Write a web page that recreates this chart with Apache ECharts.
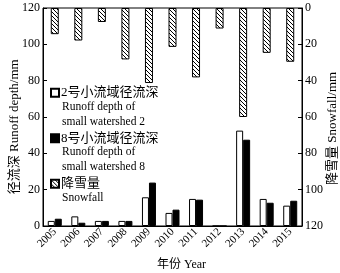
<!DOCTYPE html>
<html>
<head>
<meta charset="utf-8">
<script src="https://cdn.jsdelivr.net/npm/echarts@6/dist/echarts.min.js"></script>
<style>
  html, body { margin: 0; padding: 0; background: #fff; }
  #chart { width: 340px; height: 273px; }
</style>
</head>
<body>
<div id="chart"></div>
<script>
// 年份
const years = ['2005', '2006', '2007', '2008', '2009', '2010', '2011', '2012', '2013', '2014', '2015'];
// 2号小流域径流深 (mm)
const runoff2 = [2.8, 5.3, 2.8, 2.8, 15.8, 7.2, 14.9, 0, 52.5, 14.9, 11.2];
// 8号小流域径流深 (mm)
const runoff8 = [4.0, 1.8, 2.8, 2.8, 23.9, 9.0, 14.5, 0, 47.5, 12.8, 13.9];
// 降雪量 (mm)
const snowfall = [14.4, 17.9, 7.7, 28.3, 41.3, 21.4, 38.2, 11.3, 60, 24.7, 29.6];
const yTicks = [0, 20, 40, 60, 80, 100, 120];

// 图例英文说明
const legendNames = ['2号小流域径流深', '8号小流域径流深', '降雪量'];
const legendEnglish = [
  ['Runoff depth of', 'small watershed 2'],
  ['Runoff depth of', 'small watershed 8'],
  ['Snowfall']
];

const FONT = '"Liberation Serif", "Noto Sans CJK SC", serif';

// 斜线填充
function hatch() {
  const s = 4;
  const c = document.createElement('canvas');
  c.width = s; c.height = s;
  const ctx = c.getContext('2d');
  ctx.fillStyle = '#fff';
  ctx.fillRect(0, 0, s, s);
  ctx.strokeStyle = '#000';
  ctx.lineWidth = 1;
  ctx.beginPath();
  ctx.moveTo(-1, -1); ctx.lineTo(s + 1, s + 1);
  ctx.moveTo(-s - 1, -1); ctx.lineTo(1, s + 1);
  ctx.moveTo(s - 1, -1); ctx.lineTo(2 * s + 1, s + 1);
  ctx.stroke();
  return c;
}

// 图例下方的英文行
function englishLines() {
  const out = [];
  const firstY = [108, 153, 199];
  legendEnglish.forEach(function (lines, i) {
    lines.forEach(function (t, j) {
      out.push({
        type: 'text',
        left: 62,
        top: firstY[i] + j * 15 - 7,
        style: {
          text: t,
          font: '11.5px "Liberation Serif"',
          fontSize: 11.5,
          fontFamily: '"Liberation Serif"',
          fill: '#000'
        }
      });
    });
  });
  return out;
}

const chart = echarts.init(document.getElementById('chart'), null, { renderer: 'canvas' });

const option = {
  animation: false,
  textStyle: { fontFamily: FONT, color: '#000' },
  grid: {
    left: 43, right: 38, top: 8, bottom: 47,
    outerBoundsMode: 'none',
    containLabel: false,
    show: true, borderColor: '#000', borderWidth: 1, backgroundColor: 'transparent'
  },
  legend: {
    orient: 'vertical',
    left: 50,
    top: 85,
    icon: 'rect',
    itemWidth: 8,
    itemHeight: 8,
    itemGap: 30,
    padding: 0,
    data: legendNames,
    textStyle: {
      fontSize: 13,
      lineHeight: 15.5,
      fontFamily: FONT,
      color: '#000',
      padding: [0, 0, 0, -3]
    }
  },
  graphic: englishLines(),
  xAxis: [
    {
      type: 'category',
      data: years,
      boundaryGap: true,
      name: '年份 Year',
      nameLocation: 'middle',
      nameGap: 33,
      nameMoveOverlap: false,
      nameTextStyle: { fontSize: 12, fontFamily: FONT, color: '#000', padding: [0, 0, 0, 18] },
      axisLine: { lineStyle: { color: '#000', width: 1 } },
      axisTick: { inside: true, length: 4, lineStyle: { color: '#000' } },
      axisLabel: { rotate: 45, fontSize: 11, margin: 4, color: '#000', fontFamily: FONT }
    },
    {
      type: 'category',
      data: years,
      position: 'bottom',
      boundaryGap: true,
      axisLine: { show: false },
      axisTick: { inside: true, length: 4, alignWithLabel: true, lineStyle: { color: '#000' } },
      axisLabel: { show: false }
    }
  ],
  yAxis: [
    {
      type: 'value',
      min: yTicks[0], max: yTicks[yTicks.length - 1], interval: 20,
      name: '径流深 Runoff depth/mm      ',
      nameLocation: 'middle',
      nameRotate: 90,
      nameGap: 22,
      nameMoveOverlap: false,
      nameTextStyle: { fontSize: 13, fontFamily: FONT, color: '#000' },
      axisLine: { show: true, lineStyle: { color: '#000' } },
      axisTick: { show: true, inside: true, length: 4, lineStyle: { color: '#000' } },
      axisLabel: { fontSize: 12, margin: 3, color: '#000', fontFamily: FONT },
      splitLine: { show: false }
    },
    {
      type: 'value',
      inverse: true,
      position: 'right',
      min: yTicks[0], max: yTicks[yTicks.length - 1], interval: 20,
      name: '降雪量 Snowfall/mm       ',
      nameLocation: 'middle',
      nameRotate: 90,
      nameGap: 24,
      nameMoveOverlap: false,
      nameTextStyle: { fontSize: 13, fontFamily: FONT, color: '#000' },
      axisLine: { show: true, lineStyle: { color: '#000' } },
      axisTick: { show: true, inside: true, length: 4, lineStyle: { color: '#000' } },
      axisLabel: { fontSize: 12, margin: 3, color: '#000', fontFamily: FONT },
      splitLine: { show: false }
    }
  ],
  series: [
    {
      name: legendNames[0],
      type: 'bar',
      xAxisIndex: 0, yAxisIndex: 0,
      data: runoff2,
      barWidth: 7,
      barGap: '0%',
      itemStyle: { color: '#fff', borderColor: '#000', borderWidth: 1 }
    },
    {
      name: legendNames[1],
      type: 'bar',
      xAxisIndex: 0, yAxisIndex: 0,
      data: runoff8,
      barWidth: 7,
      barGap: '0%',
      itemStyle: { color: '#000', borderColor: '#000', borderWidth: 1 }
    },
    {
      name: legendNames[2],
      type: 'bar',
      xAxisIndex: 1, yAxisIndex: 1,
      data: snowfall,
      barWidth: 8,
      itemStyle: {
        color: { image: hatch(), repeat: 'repeat' },
        borderColor: '#000', borderWidth: 1
      }
    }
  ]
};

chart.setOption(option);
</script>
</body>
</html>
